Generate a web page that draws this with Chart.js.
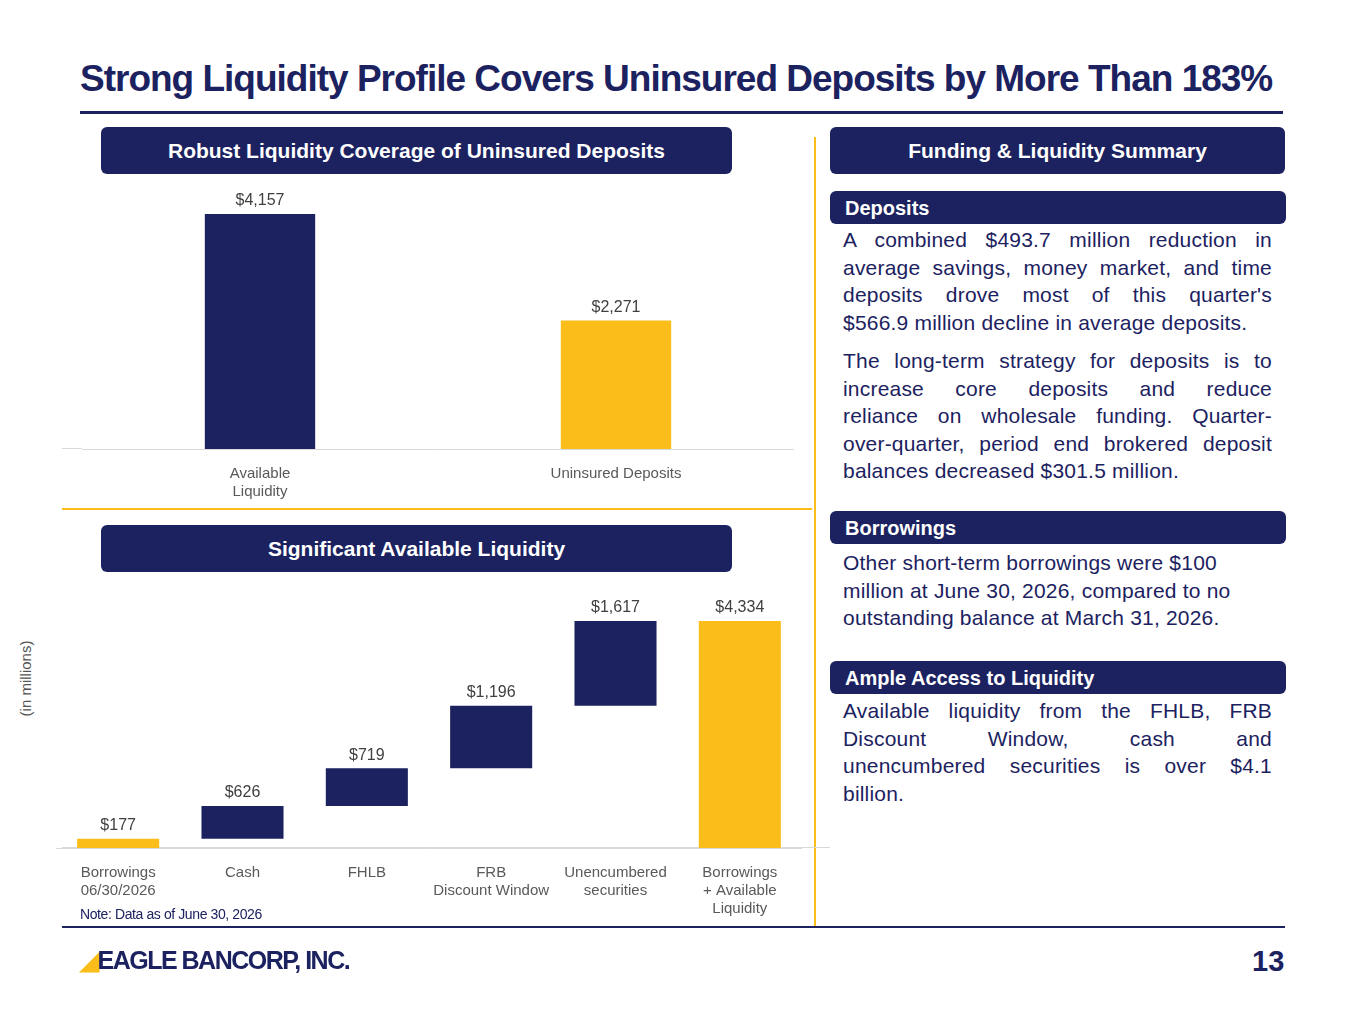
<!DOCTYPE html>
<html>
<head>
<meta charset="UTF-8">
<script src="https://cdn.jsdelivr.net/npm/chart.js@4"></script>
<style>
body{margin:0;width:1365px;height:1024px;background:#fff;font-family:"Liberation Sans",Arial,sans-serif;position:relative;overflow:hidden}
.abs{position:absolute}
.title{left:80px;top:58px;font-size:37px;font-weight:bold;color:#1c2260;letter-spacing:-1px}
.hbox{background:#1c2260;color:#fff;font-weight:bold;font-size:21px;text-align:center;border-radius:6px;line-height:47px;height:47px}
.sub{background:#1c2260;color:#fff;font-weight:bold;font-size:20px;border-radius:6px;height:33px;line-height:35px;padding-left:15px;box-sizing:border-box;left:830px;width:456px}
.txt{left:843px;width:429px;font-size:21px;line-height:27.5px;color:#1c2260;letter-spacing:0.2px;white-space:nowrap}
.txt p{margin:0 0 11px 0}
.txt .j{text-align:justify;text-align-last:justify}
</style>
</head>
<body>
<div class="abs title">Strong Liquidity Profile Covers Uninsured Deposits by More Than 183%</div>
<div class="abs" style="left:80px;top:111px;width:1203px;height:3px;background:#1c2260"></div>

<div class="abs hbox" style="left:101px;top:127px;width:631px">Robust Liquidity Coverage of Uninsured Deposits</div>
<div class="abs hbox" style="left:830px;top:127px;width:455px">Funding &amp; Liquidity Summary</div>
<div class="abs hbox" style="left:101px;top:525px;width:631px">Significant Available Liquidity</div>

<div class="abs" style="left:62px;top:508px;width:750px;height:2px;background:#fbbd1a"></div>
<div class="abs" style="left:814px;top:137px;width:2px;height:789px;background:#fbbd1a"></div>

<div class="abs" style="left:62px;top:448px;width:20px;height:1px;background:#d9d9d9"></div>
<div class="abs" style="left:82px;top:185px;width:712px;height:324px"><canvas id="c1"></canvas></div>
<div class="abs" style="left:62px;top:847px;width:768px;height:1px;background:#d9d9d9"></div>
<div class="abs" style="left:56px;top:590px;width:746px;height:336px"><canvas id="c2"></canvas></div>
<div class="abs" style="left:-30px;top:670px;width:110px;transform:rotate(-90deg);font-size:15px;color:#555;text-align:center">(in millions)</div>
<div class="abs" style="left:80px;top:906px;font-size:14px;color:#1c2260;letter-spacing:-0.4px">Note: Data as of June 30, 2026</div>

<div class="abs sub" style="top:191px">Deposits</div>
<div class="abs txt" style="top:226px">
<p><span class="j" style="display:block">A combined $493.7 million reduction in</span><span class="j" style="display:block">average savings, money market, and time</span><span class="j" style="display:block">deposits drove most of this quarter's</span>$566.9 million decline in average deposits.</p>
<p><span class="j" style="display:block">The long-term strategy for deposits is to</span><span class="j" style="display:block">increase core deposits and reduce</span><span class="j" style="display:block">reliance on wholesale funding. Quarter-</span><span class="j" style="display:block">over-quarter, period end brokered deposit</span>balances decreased $301.5 million.</p>
</div>
<div class="abs sub" style="top:511px">Borrowings</div>
<div class="abs txt" style="top:549px">Other short-term borrowings were $100<br>million at June 30, 2026, compared to no<br>outstanding balance at March 31, 2026.</div>
<div class="abs sub" style="top:661px">Ample Access to Liquidity</div>
<div class="abs txt" style="top:697px"><span class="j" style="display:block">Available liquidity from the FHLB, FRB</span><span class="j" style="display:block">Discount Window, cash and</span><span class="j" style="display:block">unencumbered securities is over $4.1</span>billion.</div>

<div class="abs" style="left:62px;top:926px;width:1223px;height:2px;background:#1c2260"></div>
<div class="abs" style="left:80px;top:946px;font-size:25px;font-weight:bold;color:#1c2260;letter-spacing:-1.5px"><span style="color:#fbbd1a">&#9698;</span>EAGLE BANCORP, INC.</div>
<div class="abs" style="left:1252px;top:945px;font-size:29px;font-weight:bold;color:#1c2260">13</div>

<script>
const cov_labels = [['Available','Liquidity'], 'Uninsured Deposits'];
const cov_values = [4157, 2271];
const wf_labels = [['Borrowings','06/30/2026'], 'Cash', 'FHLB', ['FRB','Discount Window'], ['Unencumbered','securities'], ['Borrowings','+ Available','Liquidity']];
const wf_values = [177, 626, 719, 1196, 1617, 4334];

const navy = '#1c2260', gold = '#fbbd1a';

const valueLabels = {
  id: 'valueLabels',
  afterDatasetsDraw(chart) {
    const ctx = chart.ctx;
    const shown = chart.options.plugins.valueLabels.values;
    ctx.save();
    ctx.font = '16px "Liberation Sans", Arial';
    ctx.fillStyle = '#404040';
    ctx.textAlign = 'center';
    ctx.textBaseline = 'bottom';
    chart.getDatasetMeta(0).data.forEach((bar, i) => {
      ctx.fillText('$' + shown[i].toLocaleString('en-US'), bar.x, bar.y - 5);
    });
    ctx.restore();
  }
};

function xScale() {
  return {
    grid: {display: false},
    border: {color: '#d9d9d9'},
    ticks: {color: '#595959', font: {size: 15, family: 'Liberation Sans'}, maxRotation: 0, autoSkip: false, padding: 8}
  };
}

new Chart(document.getElementById('c1'), {
  type: 'bar',
  data: {labels: cov_labels, datasets: [{data: cov_values, backgroundColor: [navy, gold], barPercentage: 0.31, categoryPercentage: 1}]},
  options: {
    responsive: true, maintainAspectRatio: false, animation: false,
    plugins: {legend: {display: false}, tooltip: {enabled: false}, valueLabels: {values: cov_values}},
    scales: {x: xScale(), y: {display: false, min: 0, max: 4670}}
  },
  plugins: [valueLabels]
});

// waterfall: each bar floats from the running total
let run = 0;
const wf_bars = wf_values.map((v, i) => {
  if (i === wf_values.length - 1) return [0, v];
  const r = [run, run + v]; run += v; return r;
});
const wf_colors = wf_values.map((v, i) => (i === 0 || i === wf_values.length - 1) ? gold : navy);

new Chart(document.getElementById('c2'), {
  type: 'bar',
  data: {labels: wf_labels, datasets: [{data: wf_bars, backgroundColor: wf_colors, barPercentage: 0.66, categoryPercentage: 1}]},
  options: {
    responsive: true, maintainAspectRatio: false, animation: false,
    plugins: {legend: {display: false}, tooltip: {enabled: false}, valueLabels: {values: wf_values}},
    scales: {x: xScale(), y: {display: false, min: 0, max: 4926}}
  },
  plugins: [valueLabels]
});
</script>
</body>
</html>
